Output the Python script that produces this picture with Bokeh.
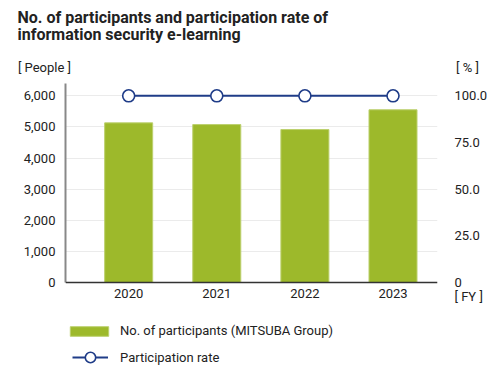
from bokeh.plotting import figure
from bokeh.layouts import column
from bokeh.models import (Range1d, LinearAxis, FixedTicker, Label, Legend, LegendItem,
                          ColumnDataSource, NumeralTickFormatter, Span)
from bokeh.embed import file_html
from bokeh.resources import INLINE

# ---- data ----
years = ["2020", "2021", "2022", "2023"]
participants = [5130, 5075, 4915, 5550]
rate = [100.0, 100.0, 100.0, 100.0]
people_ticks = [0, 1000, 2000, 3000, 4000, 5000, 6000]
rate_ticks = [0, 25, 50, 75, 100]
rate_tick_labels = ["0", "25.0", "50.0", "75.0", "100.0"]

FONT = "Roboto"
TXT = "#222222"
GREEN = "#9db92b"
BLUE = "#1f3c88"

# ---- layout geometry (pixels in the 500x370 page) ----
W, H = 500, 370
TOP_H = 76                                   # height of the heading strip
FL, FR, FT = 65, 437, 83                     # frame left / right / top
BASE = 282                                   # pixel row of value 0
FBOT = H                                     # frame bottom (frame reaches page bottom)
X0, X1 = -0.717, 3.505                       # x range (category index units)
Y1 = 6395                                    # left range top (at FT)
R1 = 106.6                                   # right range top (at FT)
ppx_l = (BASE - FT) / Y1
ppx_r = (BASE - FT) / R1
Y0 = -(FBOT - BASE) / ppx_l
R0 = -(FBOT - BASE) / ppx_r
FY_POS = -(296 - BASE) / ppx_r               # where the "[ FY ]" unit sits on the right scale

# ---------------- heading strip ----------------
top = figure(width=W, height=TOP_H, output_backend="svg", toolbar_location=None,
             x_range=Range1d(0, W), y_range=Range1d(TOP_H, 0),
             x_axis_type=None, y_axis_type=None, min_border=0, title=None)
top.frame_align = False
top.outline_line_color = None
top.background_fill_color = "white"
top.border_fill_color = "white"

def tlab(text, x, y, size="13px", bold=False, align="center", baseline="middle"):
    top.add_layout(Label(x=x, y=y, text=text, text_font=FONT, text_font_size=size,
                         text_font_style="bold" if bold else "normal",
                         text_align=align, text_baseline=baseline, text_color=TXT))

tlab("No. of participants and participation rate of", 17, 17, size="16px", bold=True,
     align="left", baseline="alphabetic")
tlab("information security e-learning", 17, 34, size="16px", bold=True,
     align="left", baseline="alphabetic")
tlab("[ People ]", 44, 67)
tlab("[ % ]", 467, 67)

# ---------------- chart ----------------
idx = list(range(len(years)))
src = ColumnDataSource(dict(x=idx, n=participants, r=rate))

p = figure(width=W, height=H - TOP_H, output_backend="svg", toolbar_location=None, title=None,
           x_range=Range1d(X0, X1), y_range=Range1d(Y0, Y1),
           min_border_left=FL, min_border_right=W - FR, min_border_top=FT - TOP_H,
           min_border_bottom=0)
p.frame_align = False
p.extra_y_ranges = {"rate": Range1d(R0, R1)}
p.outline_line_color = None
p.background_fill_color = "white"
p.border_fill_color = "white"

bars = p.vbar(x="x", top="n", bottom=0, width=0.545, source=src, fill_color=GREEN,
              line_color="#bcd06e", line_width=1)
line = p.line(x="x", y="r", source=src, y_range_name="rate", line_color=BLUE, line_width=2)
pts = p.scatter(x="x", y="r", source=src, y_range_name="rate", marker="circle", size=12,
                fill_color="white", line_color=BLUE, line_width=1.6)

# baseline (x axis line at value 0)
p.add_layout(Span(location=0, dimension="width", line_color="#333333", line_width=1.5))

# x axis: its labels are pulled up to sit just under the baseline
xa = p.xaxis[0]
xa.ticker = FixedTicker(ticks=idx)
xa.major_label_overrides = {i: y for i, y in zip(idx, years)}
xa.axis_line_color = None
xa.major_tick_line_color = None
xa.minor_tick_line_color = None
xa.major_tick_out = 0
xa.major_tick_in = 0
xa.major_label_standoff = -(FBOT - 288)
xa.major_label_text_font = FONT
xa.major_label_text_font_size = "13px"
xa.major_label_text_color = TXT
p.xgrid.visible = False

# left axis
ya = p.yaxis[0]
ya.ticker = FixedTicker(ticks=people_ticks)
ya.formatter = NumeralTickFormatter(format="0,0")
ya.bounds = (0, Y1)
ya.axis_line_color = "#888888"
ya.axis_line_width = 2
ya.major_tick_line_color = None
ya.minor_tick_line_color = None
ya.major_tick_out = 0
ya.major_tick_in = 0
ya.major_label_standoff = 10
ya.major_label_text_font = FONT
ya.major_label_text_font_size = "13px"
ya.major_label_text_color = TXT
p.ygrid.grid_line_color = "#ebebeb"
p.ygrid.grid_line_width = 1

# right axis (also carries the "[ FY ]" unit below its 0)
r_overrides = {t: l for t, l in zip(rate_ticks, rate_tick_labels)}
r_overrides[FY_POS] = "[ FY ]"
ra = LinearAxis(y_range_name="rate", ticker=FixedTicker(ticks=rate_ticks + [FY_POS]),
                major_label_overrides=r_overrides,
                axis_line_color=None, major_tick_line_color=None, minor_tick_line_color=None,
                major_tick_out=0, major_tick_in=0, major_label_standoff=17,
                major_label_text_font=FONT, major_label_text_font_size="13px",
                major_label_text_color=TXT)
p.add_layout(ra, "right")

# legends (inside the frame, below the baseline)
base = dict(padding=0, margin=0, spacing=0, border_line_color=None, background_fill_alpha=0,
            label_text_font=FONT, label_text_color=TXT, label_text_font_size="13px")
leg1 = Legend(items=[LegendItem(label="No. of participants (MITSUBA Group)", renderers=[bars])],
              location=(0, FBOT - 326 - 12), glyph_width=48, glyph_height=12, label_height=12,
              label_standoff=7, **base)
leg2 = Legend(items=[LegendItem(label="Participation rate", renderers=[line, pts])],
              location=(7, FBOT - 344 - 26), glyph_width=36, glyph_height=26, label_height=26,
              label_standoff=12, **base)
p.add_layout(leg1)
p.add_layout(leg2)

layout = column(top, p, spacing=0)
open("out.html", "w").write(file_html(layout, INLINE))
